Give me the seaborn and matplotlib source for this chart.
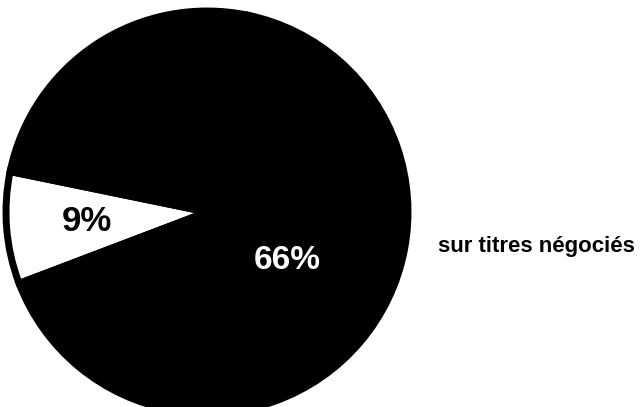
import numpy as np
import matplotlib
matplotlib.use("Agg")
import matplotlib.pyplot as plt
import seaborn as sns

# slice shares (%), the unlabeled remainder is black as well in the scan
shares = [9, 66, 25]
labels = ["9%", "66%", ""]
slice_colors = ["white", "black", "black"]
side_label = "sur titres négociés"

sns.set_theme(style="white")
plt.rcParams['font.family'] = ['Liberation Sans', 'DejaVu Sans']

fig = plt.figure(figsize=(6.43, 4.07), dpi=100)
ax = fig.add_axes([0, 0, 1, 1])

wedges, _ = ax.pie(shares, colors=slice_colors, startangle=168.4,
                   counterclock=True, radius=1.0,
                   wedgeprops=dict(edgecolor="black", linewidth=5))

# label placement (radius fraction, angle offset from wedge middle)
label_style = [
    dict(r=0.60, dang=0, color="black", size=25, weight="heavy"),
    dict(r=0.467, dang=9, color="white", size=24, weight="bold"),
]
for w, lab, st in zip(wedges, labels, label_style):
    mid = np.deg2rad((w.theta1 + w.theta2) / 2 + st["dang"])
    ax.text(st["r"] * np.cos(mid), st["r"] * np.sin(mid), lab,
            ha="center", va="center", color=st["color"],
            fontsize=st["size"], fontweight=st["weight"])

ax.text(1.149, -0.174, side_label, ha="left", va="center",
        fontsize=16, fontweight="bold", color="black")

# pie centre at about (207, 212) px, radius ~201 px
cx, cy, r_px = 207, 212, 201
ax.set_xlim(-cx / r_px, (643 - cx) / r_px)
ax.set_ylim(-(407 - cy) / r_px, cy / r_px)
ax.set_aspect("equal")
ax.axis("off")

fig.savefig("out.png", dpi=100, facecolor="white")
